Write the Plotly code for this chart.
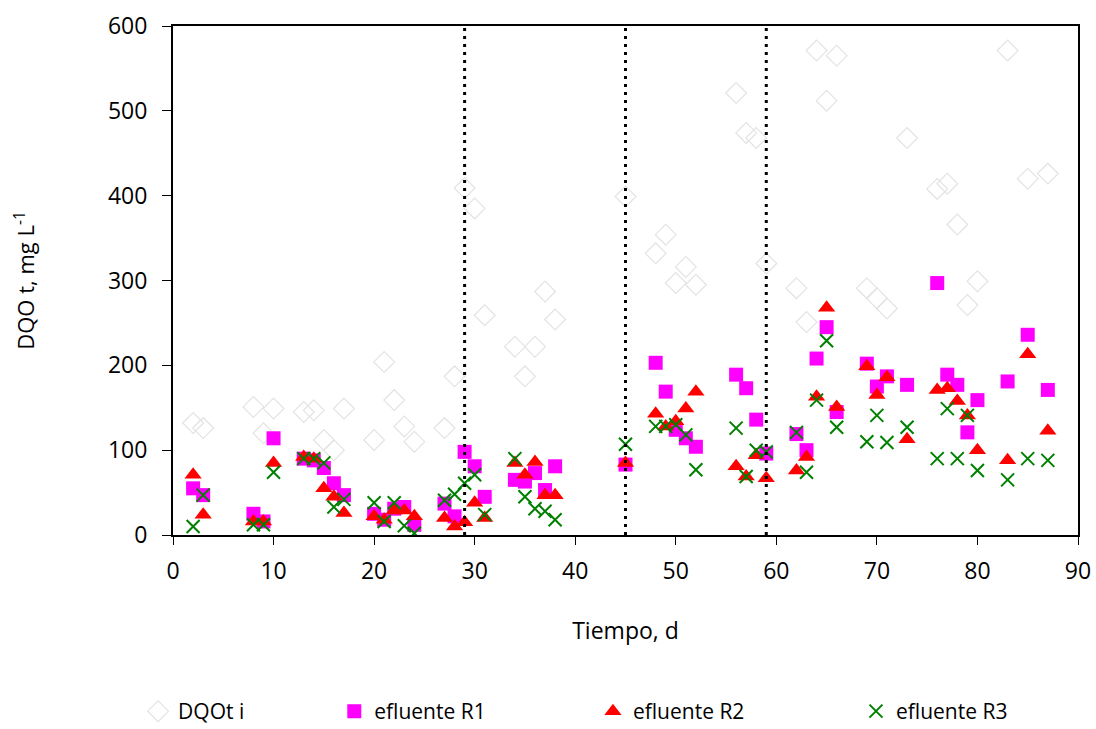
import plotly.graph_objects as go

days = [2, 3, 8, 9, 10, 13, 14, 15, 16, 17, 20, 21, 22, 23, 24, 27, 28, 29, 30, 31,
        34, 35, 36, 37, 38, 45, 48, 49, 50, 51, 52, 56, 57, 58, 59, 62, 63, 64, 65, 66,
        69, 70, 71, 73, 76, 77, 78, 79, 80, 83, 85, 87]

dqot_i = [132, 126, 151, 120, 149, 145, 147, 112, 100, 149, 112, 204, 159, 128, 110, 126, 187, 409, 385, 259,
          222, 187, 222, 287, 254, 399, 332, 354, 297, 316, 295, 521, 474, 468, 320, 291, 251, 571, 512, 565,
          291, 279, 267, 468, 408, 414, 366, 271, 299, 571, 420, 426]

efl_r1 = [55, 47, 25, 16, 114, 90, 88, 79, 61, 47, 25, 18, 31, 33, 12, 37, 22, 98, 81, 45,
          65, 63, 73, 53, 81, 83, 203, 169, 124, 114, 104, 189, 173, 136, 96, 119, 100, 208, 245, 145,
          202, 175, 187, 177, 297, 189, 177, 121, 159, 181, 236, 171]

efl_r2 = [71, 24, 16, 16, 85, 92, 90, 55, 45, 26, 22, 18, 29, 29, 22, 20, 10, 15, 38, 20,
          85, 71, 86, 47, 47, 85, 143, 128, 134, 149, 169, 81, 69, 94, 67, 76, 92, 163, 268, 151,
          199, 165, 186, 113, 171, 173, 158, 141, 100, 88, 213, 123]

efl_r3 = [10, 47, 12, 12, 74, 90, 90, 85, 33, 42, 38, 16, 38, 11, 2, 41, 48, 61, 71, 24,
          90, 45, 31, 28, 18, 107, 128, 128, 130, 118, 77, 126, 69, 100, 98, 121, 74, 159, 229, 127,
          110, 141, 109, 127, 90, 149, 90, 141, 76, 65, 90, 88]

phase_limits = [29, 45, 59]

FONT = "Open Sans"

fig = go.Figure()
fig.add_trace(go.Scatter(x=days, y=dqot_i, mode="markers", name="DQOt i",
                         marker=dict(symbol="diamond-open", size=16, color="#e3e3e3",
                                     line=dict(width=1.2, color="#e3e3e3")),
                         legend="legend"))
fig.add_trace(go.Scatter(x=days, y=efl_r1, mode="markers", name="efluente R1",
                         marker=dict(symbol="square", size=14, color="#ff00ff"),
                         legend="legend2"))
fig.add_trace(go.Scatter(x=days, y=efl_r2, mode="markers", name="efluente R2",
                         marker=dict(symbol="triangle-up", size=15, color="#ff0000"),
                         legend="legend3"))
fig.add_trace(go.Scatter(x=days, y=efl_r3, mode="markers", name="efluente R3",
                         marker=dict(symbol="x-thin-open", size=13, color="#008000",
                                     line=dict(width=2, color="#008000")),
                         legend="legend4"))

for xv in phase_limits:
    fig.add_shape(type="line", x0=xv, x1=xv, y0=0, y1=600, xref="x", yref="y",
                  line=dict(color="black", width=3, dash="3px,5px"))

leg_common = dict(orientation="h", yanchor="middle", y=0.024, yref="container",
                  xanchor="left", xref="container",
                  font=dict(family=FONT, size=21, color="black"), bgcolor="rgba(0,0,0,0)")
fig.update_layout(
    width=1096, height=729,
    margin=dict(l=173, r=18, t=26, b=194, autoexpand=False),
    paper_bgcolor="white", plot_bgcolor="white",
    font=dict(family=FONT, size=22, color="black"),
    showlegend=True,
    legend=dict(x=0.126, **leg_common),
    legend2=dict(x=0.305, **leg_common),
    legend3=dict(x=0.541, **leg_common),
    legend4=dict(x=0.781, **leg_common),
    xaxis=dict(range=[0, 90], dtick=10, tick0=0, showgrid=False, zeroline=False,
               showline=True, linecolor="black", linewidth=2, mirror=True,
               ticks="outside", ticklen=8, tickwidth=1, tickcolor="black",
               ticklabelstandoff=6, automargin=False,
               tickfont=dict(family=FONT, size=23),
               title=dict(text="Tiempo, d", font=dict(family=FONT, size=23), standoff=38)),
    yaxis=dict(range=[0, 600], dtick=100, tick0=0, showgrid=False, zeroline=False,
               showline=True, linecolor="black", linewidth=2, mirror=True,
               ticks="outside", ticklen=9, tickwidth=1, tickcolor="black",
               ticklabelstandoff=10, automargin=False,
               tickfont=dict(family=FONT, size=23),
               title=dict(text="DQO t, mg L<sup>-1</sup>", font=dict(family=FONT, size=22), standoff=67)),
)

fig.write_html("out.html", config={"displayModeBar": False},
               post_script="document.body.style.margin='0';document.body.style.overflow='hidden';")
